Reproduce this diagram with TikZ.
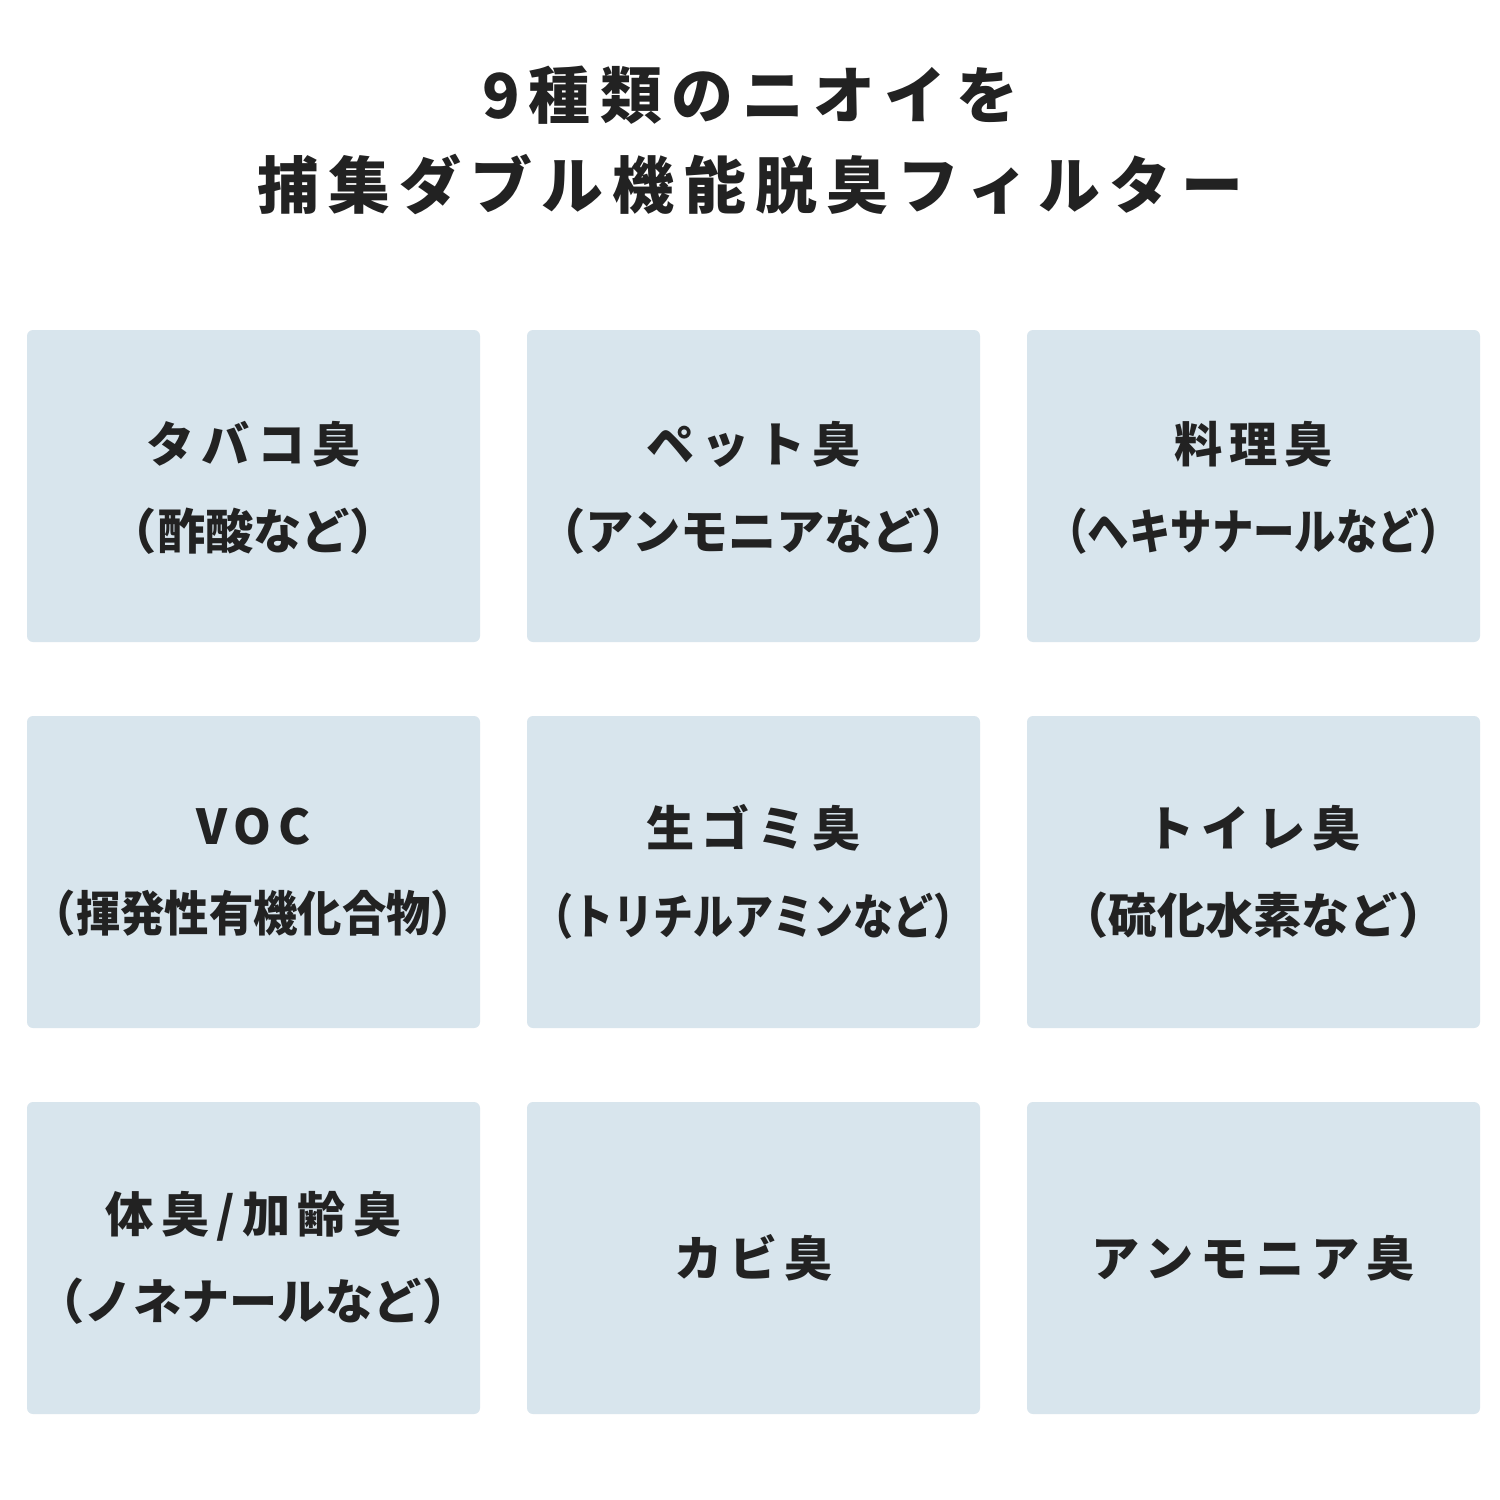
\documentclass[tikz,border=0pt]{standalone}
\usepackage{fontspec}
\setmainfont{Noto Sans CJK JP}
\newfontfamily\jpsp[LetterSpace=15]{Noto Sans CJK JP}
\definecolor{boxc}{HTML}{D8E5ED}
\definecolor{txt}{HTML}{222222}
\begin{document}
\begin{tikzpicture}[x=0.01cm,y=-0.01cm,
  cell/.style={fill=boxc,rounded corners=0.06cm,draw=none},
  lab/.style={text=txt,align=center,font=\bfseries\fontsize{13.7pt}{22.8pt}\selectfont},
  ttl/.style={text=txt,align=center,font=\jpsp\bfseries\fontsize{17.6pt}{25.6pt}\selectfont}]
\useasboundingbox[fill=white] (0,0) rectangle (1500,1500);
\node[ttl] (title) at (750,140) {9種類のニオイを\\捕集ダブル機能脱臭フィルター};
\foreach \c/\x in {0/27,1/527,2/1027}{
  \foreach \r/\y in {0/330,1/716,2/1102}{
    \fill[boxc,rounded corners=0.06cm] (\x,\y) rectangle ++(453,312);
  }}
\newcommand\two[2]{{\jpsp #1}\\[2pt]#2}
\node[lab] (b1) at (253.5,488) {\two{タバコ臭}{（酢酸など）}};
\node[lab] (b2) at (753.5,488) {\two{ペット臭}{（アンモニアなど）}};
\node[lab] (b3) at (1253.5,488) {\two{料理臭}{\scalebox{0.86}[1]{（ヘキサナールなど）}}};
\node[lab] (b4) at (253.5,872) {\two{VOC}{\scalebox{0.92}[1]{（揮発性有機化合物）}}};
\node[lab] (b5) at (753.5,872) {\two{生ゴミ臭}{\scalebox{0.83}[1]{（トリチルアミンなど）}}};
\node[lab] (b6) at (1253.5,872) {\two{トイレ臭}{（硫化水素など）}};
\node[lab] (b7) at (253.5,1258) {\two{体臭/加齢臭}{（ノネナールなど）}};
\node[lab] (b8) at (753.5,1258) {{\jpsp カビ臭}};
\node[lab] (b9) at (1253.5,1258) {{\jpsp アンモニア臭}};
\end{tikzpicture}
\end{document}
